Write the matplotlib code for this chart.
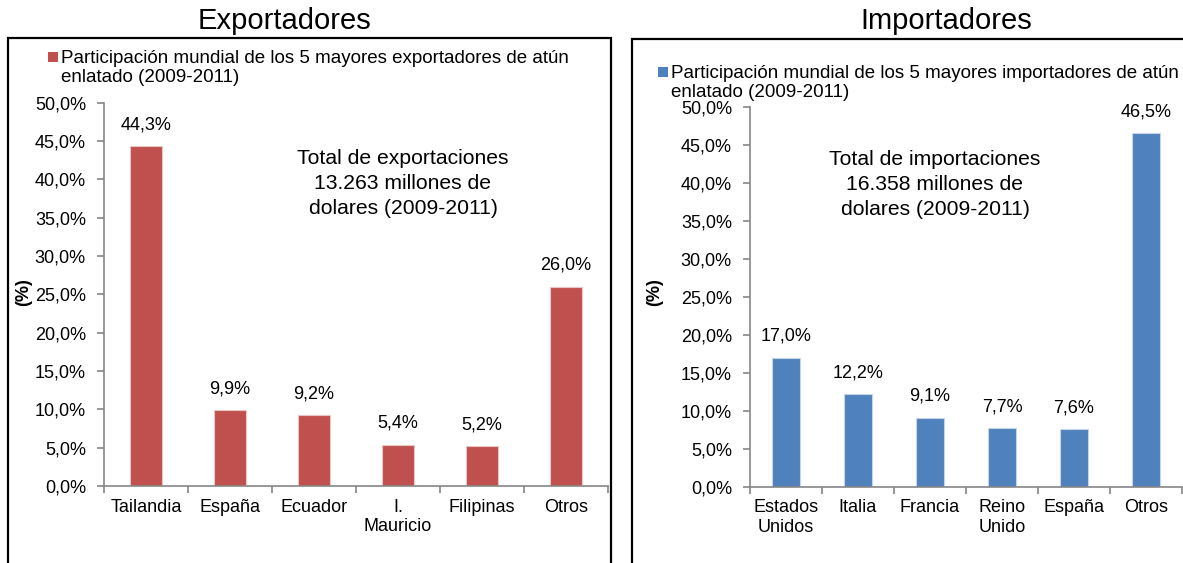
import numpy as np
import matplotlib
matplotlib.use("Agg")
import matplotlib.pyplot as plt
from matplotlib.patches import Rectangle
from matplotlib.ticker import FuncFormatter, FixedLocator

plt.rcParams['font.family'] = ['Liberation Sans', 'DejaVu Sans']

# Exportadores
exp_paises = ["Tailandia", "España", "Ecuador", "I.\nMauricio", "Filipinas", "Otros"]
exp_valores = [44.3, 9.9, 9.2, 5.4, 5.2, 26.0]

# Importadores
imp_paises = ["Estados\nUnidos", "Italia", "Francia", "Reino\nUnido", "España", "Otros"]
imp_valores = [17.0, 12.2, 9.1, 7.7, 7.6, 46.5]

exp_leyenda = "Participación mundial de los 5 mayores exportadores de atún\nenlatado (2009-2011)"
imp_leyenda = "Participación mundial de los 5 mayores importadores de atún\nenlatado (2009-2011)"
exp_total = "Total de exportaciones\n13.263 millones de\ndolares (2009-2011)"
imp_total = "Total de importaciones\n16.358 millones de\ndolares (2009-2011)"

ROJO = "#C0504D"
AZUL = "#4F81BD"
GRIS = "#868686"

W, H = 1183, 563
fig = plt.figure(figsize=(W / 100, H / 100), dpi=100)


def fx(px):
    return px / W


def fy(py):
    return 1 - py / H


pct = FuncFormatter(lambda v, p: ("%.1f%%" % v).replace(".", ","))


def panel(rect, paises, valores, color, width, leyenda, ley_xy, total, total_xy, ylab_x):
    ax = fig.add_axes(rect)
    x = np.arange(len(paises))
    bars = ax.bar(x, valores, width=width, color=color, edgecolor="#E8C8C7" if color == ROJO else "#C6D4E8",
                  linewidth=0.8, zorder=2)
    ax.set_xlim(-0.5, len(paises) - 0.5)
    ax.set_ylim(0, 50)
    ax.yaxis.set_major_locator(FixedLocator(np.arange(0, 50.1, 5)))
    ax.yaxis.set_major_formatter(pct)
    ax.set_xticks(x)
    ax.set_xticklabels(paises, fontsize=13, linespacing=1.17)
    ax.xaxis.set_minor_locator(FixedLocator(np.arange(-0.5, len(paises), 1)))
    ax.tick_params(axis="x", which="major", length=0, pad=9)
    ax.tick_params(axis="x", which="minor", length=5, color=GRIS, width=1.2)
    ax.tick_params(axis="y", length=5, color=GRIS, width=1.2, labelsize=13, pad=8)
    for s in ["top", "right"]:
        ax.spines[s].set_visible(False)
    for s in ["left", "bottom"]:
        ax.spines[s].set_color(GRIS)
        ax.spines[s].set_linewidth(1.2)
    for b, v in zip(bars, valores):
        ax.annotate(("%.1f%%" % v).replace(".", ","), (b.get_x() + b.get_width() / 2, v),
                    xytext=(0, 15.5), textcoords="offset points", ha="center", va="center", fontsize=13)
    fig.text(fx(ylab_x), fy(292), "(%)", rotation=90, ha="center", va="center",
             fontsize=13, fontweight="bold")
    fig.text(fx(total_xy[0]), fy(total_xy[1]), total, ha="center", va="top", fontsize=15.2,
             linespacing=1.39)
    # leyenda
    lx, ly = ley_xy
    fig.patches.append(Rectangle((fx(lx), fy(ly + 5)), 10 / W, 10 / H, transform=fig.transFigure,
                                 facecolor=color, edgecolor="none"))
    fig.text(fx(lx + 13), fy(ly - 7), leyenda, ha="left", va="top", fontsize=13.5,
             linespacing=1.18)
    return ax


ax1 = panel([fx(104), fy(486), 504 / W, (486 - 102.7) / H], exp_paises, exp_valores, ROJO, 0.39,
            exp_leyenda, (48, 57), exp_total, (403, 149), 24)
ax2 = panel([fx(750), fy(487), 432 / W, (487 - 106.7) / H], imp_paises, imp_valores, AZUL, 0.4,
            imp_leyenda, (658, 72), imp_total, (935, 150), 655)

# cajas
fig.patches.append(Rectangle((fx(8), fy(575)), 603 / W, 537 / H, transform=fig.transFigure,
                             fill=False, edgecolor="black", linewidth=1.6))
fig.patches.append(Rectangle((fx(632), fy(575)), 570 / W, 536 / H, transform=fig.transFigure,
                             fill=False, edgecolor="black", linewidth=1.6))

fig.text(fx(284), fy(21), "Exportadores", ha="center", va="center", fontsize=21)
fig.text(fx(946), fy(21), "Importadores", ha="center", va="center", fontsize=21)

fig.savefig("out.png", dpi=100)
